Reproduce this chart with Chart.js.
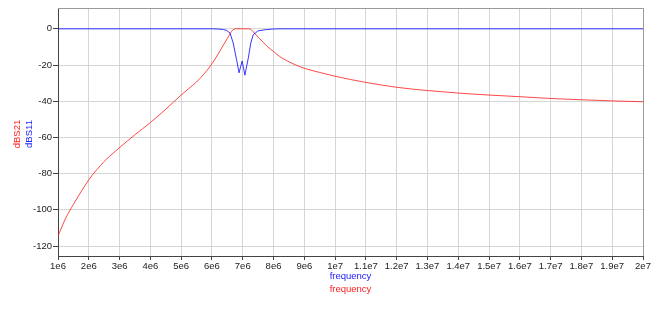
<!DOCTYPE html>
<html><head><meta charset="utf-8">
<script src="https://cdn.jsdelivr.net/npm/chart.js@4/dist/chart.umd.min.js"></script>
<style>html,body{margin:0;padding:0;background:#fff;overflow:hidden}</style>
</head><body>
<canvas id="c" width="656" height="312" style="display:block;width:656px;height:312px"></canvas>
<script>
// ---- data ----
const s21Freq = [1.0e6,1.1e6,1.25e6,1.5e6,1.75e6,2.0e6,2.5e6,3.0e6,3.5e6,4.0e6,4.5e6,5.0e6,5.5e6,5.75e6,6.0e6,6.2e6,6.37e6,6.5e6,6.6e6,6.68e6,6.76e6,7.0e6,7.2e6,7.28e6,7.4e6,7.5e6,7.67e6,7.8e6,8.0e6,8.2e6,8.43e6,8.7e6,9.0e6,9.5e6,1.0e7,1.1e7,1.2e7,1.3e7,1.4e7,1.5e7,1.6e7,1.7e7,1.8e7,1.9e7,2.0e7];
const s21Db   = [-114.7,-110.4,-104.6,-97.0,-90.0,-83.4,-73.3,-65.6,-58.5,-51.8,-44.4,-36.6,-29.3,-24.8,-19.3,-14.0,-9.0,-5.3,-2.4,-0.6,0,0,0,-0.5,-2.8,-4.6,-7.5,-9.8,-12.5,-15.3,-17.6,-19.8,-21.8,-24.1,-26.2,-29.6,-32.3,-34.1,-35.5,-36.6,-37.5,-38.5,-39.2,-39.8,-40.3];
const s11Freq = [1.0e6,6.0e6,6.2e6,6.37e6,6.48e6,6.59e6,6.69e6,6.8e6,6.88e6,6.98e6,7.07e6,7.18e6,7.26e6,7.34e6,7.5e6,7.78e6,8.0e6,8.3e6,2.0e7];
const s11Db   = [0,0,-0.1,-0.4,-0.9,-2.4,-7.9,-17,-24.3,-17.8,-25.6,-16.2,-7.9,-3.3,-1.1,-0.4,-0.1,0,0];
const xTickValues = [1e6,2e6,3e6,4e6,5e6,6e6,7e6,8e6,9e6,1e7,1.1e7,1.2e7,1.3e7,1.4e7,1.5e7,1.6e7,1.7e7,1.8e7,1.9e7,2e7];
const xTickLabels = ['1e6','2e6','3e6','4e6','5e6','6e6','7e6','8e6','9e6','1e7','1.1e7','1.2e7','1.3e7','1.4e7','1.5e7','1.6e7','1.7e7','1.8e7','1.9e7','2e7'];
const yTickValues = [0,-20,-40,-60,-80,-100,-120];
const yTickLabels = ['0','-20','-40','-60','-80','-100','-120'];
const seriesNames = ['dBS21','dBS11'];
const xTitle = 'frequency';

const RED = 'rgba(255,20,20,0.78)', BLUE = 'rgba(20,20,255,0.85)';
const RED_TXT = '#ff2020', BLUE_TXT = '#2020ff';
const FONT = '"Liberation Sans", Arial, Helvetica, sans-serif';

const titles = {
  id: 'titles',
  beforeDatasetsDraw(chart) {
    const {ctx, chartArea: a} = chart;
    ctx.save();
    ctx.strokeStyle = '#9a9a9a';
    ctx.lineWidth = 1;
    ctx.beginPath();
    ctx.moveTo(a.left, a.top + 0.5); ctx.lineTo(a.right + 0.5, a.top + 0.5);
    ctx.lineTo(a.right + 0.5, a.bottom);
    ctx.stroke();
    ctx.restore();
  },
  afterDraw(chart) {
    const {ctx, chartArea: a} = chart;
    ctx.save();
    ctx.font = '9.5px ' + FONT;
    ctx.textAlign = 'center';
    ctx.textBaseline = 'middle';
    const cx = (a.left + a.right) / 2;
    ctx.fillStyle = BLUE_TXT; ctx.fillText(xTitle, cx, 276.5);
    ctx.fillStyle = RED_TXT;  ctx.fillText(xTitle, cx, 289);
    const cy = 134;
    ctx.translate(17, cy); ctx.rotate(-Math.PI / 2);
    ctx.fillStyle = RED_TXT; ctx.fillText(seriesNames[0], 0, 0);
    ctx.restore();
    ctx.save();
    ctx.font = '9.5px ' + FONT;
    ctx.textAlign = 'center';
    ctx.textBaseline = 'middle';
    ctx.translate(29, cy); ctx.rotate(-Math.PI / 2);
    ctx.fillStyle = BLUE_TXT; ctx.fillText(seriesNames[1], 0, 0);
    ctx.restore();
  }
};

new Chart(document.getElementById('c'), {
  type: 'scatter',
  data: {
    datasets: [
      { label: seriesNames[1], data: s11Freq.map((f, i) => ({x: f, y: s11Db[i]})),
        showLine: true, pointRadius: 0, borderWidth: 1, borderColor: BLUE, tension: 0 },
      { label: seriesNames[0], data: s21Freq.map((f, i) => ({x: f, y: s21Db[i]})),
        showLine: true, pointRadius: 0, borderWidth: 1, borderColor: RED, cubicInterpolationMode: 'monotone' }
    ]
  },
  options: {
    responsive: false, animation: false, devicePixelRatio: 1,
    layout: { padding: { left: 0, right: 13, top: 8, bottom: 0 } },
    plugins: { legend: { display: false }, tooltip: { enabled: false } },
    scales: {
      x: {
        type: 'linear', min: 1e6, max: 2e7,
        afterBuildTicks: s => { s.ticks = xTickValues.map(v => ({value: v})); },
        afterFit: s => { s.height = 56; },
        ticks: { autoSkip: false, maxRotation: 0, padding: 1, color: '#222',
                 font: { family: FONT, size: 9.5 },
                 callback: (v) => { const i = xTickValues.indexOf(v); return i >= 0 ? xTickLabels[i] : ''; } },
        grid: { color: '#d6d6d6', lineWidth: 1, tickColor: '#444', tickLength: 4 },
        border: { color: '#444', width: 1 }
      },
      y: {
        min: -125.5, max: 11.5,
        afterBuildTicks: s => { s.ticks = yTickValues.map(v => ({value: v})); },
        afterFit: s => { s.width = 58; },
        ticks: { padding: 1, color: '#222', font: { family: FONT, size: 9.5 },
                 callback: (v) => { const i = yTickValues.indexOf(v); return i >= 0 ? yTickLabels[i] : ''; } },
        grid: { color: '#d6d6d6', lineWidth: 1, tickColor: '#444', tickLength: 5 },
        border: { color: '#444', width: 1 }
      }
    }
  },
  plugins: [titles]
});
</script>
</body></html>
